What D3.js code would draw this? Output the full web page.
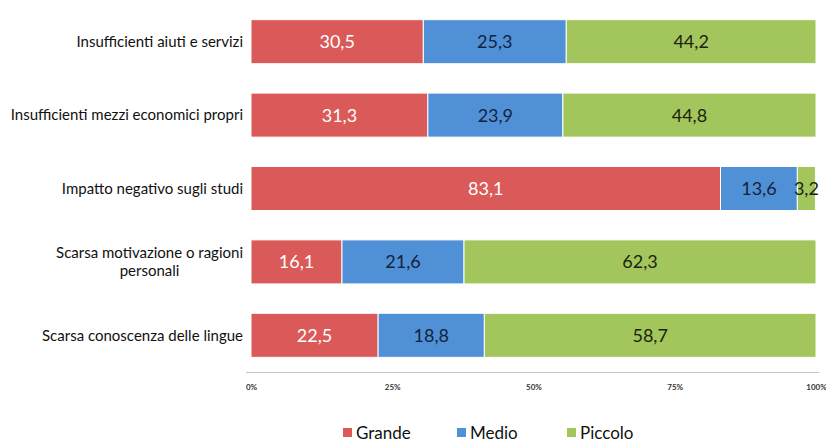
<!DOCTYPE html>
<html>
<head>
<meta charset="utf-8">
<script src="https://cdn.jsdelivr.net/npm/d3@7"></script>
<style>
  body { margin: 0; background: #fff; }
  svg { display: block; font-family: Lato, "Open Sans", sans-serif; }
</style>
</head>
<body>
<svg id="chart"></svg>
<script>
// chart data
var categories = [
  "Insufficienti aiuti e servizi",
  "Insufficienti mezzi economici propri",
  "Impatto negativo sugli studi",
  "Scarsa motivazione o ragioni|personali",
  "Scarsa conoscenza delle lingue"
];
var seriesNames = ["Grande", "Medio", "Piccolo"];
var grande = [30.5, 31.3, 83.1, 16.1, 22.5];
var medio = [25.3, 23.9, 13.6, 21.6, 18.8];
var piccolo = [44.2, 44.8, 3.2, 62.3, 58.7];
var tickLabels = ["0%", "25%", "50%", "75%", "100%"];

var w = 826, h = 442;
var colors = ["#d95a58", "#5090d6", "#a2c65c"];
var labelColors = ["#ffffff", "#14233d", "#1c2410"];

var svg = d3.select("#chart").attr("width", w).attr("height", h);

var x = d3.scaleLinear().domain([0, 100]).range([251, 816]);
var y = d3.scaleBand().domain(d3.range(categories.length)).range([5, 372])
  .paddingInner(0.4).paddingOuter(0.2);

// build stacked rows
var rows = categories.map(function (c, i) {
  return { Grande: grande[i], Medio: medio[i], Piccolo: piccolo[i], idx: i };
});
var stack = d3.stack().keys(seriesNames)(rows);

stack.forEach(function (layer, k) {
  var g = svg.append("g");
  g.selectAll("rect").data(layer).enter()
    .append("rect")
    .attr("x", function (d) { return x(d[0]); })
    .attr("y", function (d) { return y(d.data.idx); })
    .attr("width", function (d) { return x(d[1]) - x(d[0]); })
    .attr("height", y.bandwidth())
    .attr("fill", colors[k])
    .attr("stroke", "#fff")
    .attr("stroke-width", 1);
});

// value labels
stack.forEach(function (layer, k) {
  svg.append("g").selectAll("text").data(layer).enter()
    .append("text")
    .attr("x", function (d) { return (x(d[0]) + x(d[1])) / 2; })
    .attr("y", function (d) { return y(d.data.idx) + y.bandwidth() / 2; })
    .attr("dy", "0.36em")
    .attr("text-anchor", "middle")
    .attr("font-size", 18)
    .attr("fill", labelColors[k])
    .text(function (d) { return String(d.data[layer.key]).replace(".", ","); });
});

// category labels
categories.forEach(function (c, i) {
  var lines = c.split("|");
  var cy = y(i) + y.bandwidth() / 2;
  var t = svg.append("text")
    .attr("x", 243)
    .attr("y", cy - (lines.length - 1) * 9)
    .attr("dy", "0.35em")
    .attr("text-anchor", "end")
    .attr("font-size", 15)
    .attr("fill", "#111")
    .text(lines[0]);
  if (lines.length > 1) {
    var len = t.node().getComputedTextLength();
    svg.append("text")
      .attr("x", 243 - len / 2)
      .attr("y", cy + 9)
      .attr("dy", "0.35em")
      .attr("text-anchor", "middle")
      .attr("font-size", 15)
      .attr("fill", "#111")
      .text(lines[1]);
  }
});

// x axis
var axis = d3.axisBottom(x).tickValues([0, 25, 50, 75, 100])
  .tickFormat(function (d, i) { return tickLabels[i]; })
  .tickSize(0).tickPadding(12);
var ax = svg.append("g").attr("transform", "translate(0,372)").call(axis);
ax.select(".domain").attr("stroke", "#c8c8c8").attr("d", "M246,0.5H819");
ax.selectAll("text").attr("font-size", 8).attr("font-weight", "bold").attr("fill", "#333")
  .attr("font-family", "Lato, sans-serif");

// legend
var legendX = [343, 457, 567];
var legend = svg.append("g").selectAll("g").data(seriesNames).enter().append("g")
  .attr("transform", function (d, i) { return "translate(" + legendX[i] + ",433)"; });
legend.append("rect").attr("x", 0).attr("y", -5).attr("width", 9).attr("height", 9)
  .attr("fill", function (d, i) { return colors[i]; });
legend.append("text").attr("x", 13).attr("dy", "0.35em").attr("font-size", 17)
  .attr("fill", "#111").text(function (d) { return d; });
</script>
</body>
</html>
